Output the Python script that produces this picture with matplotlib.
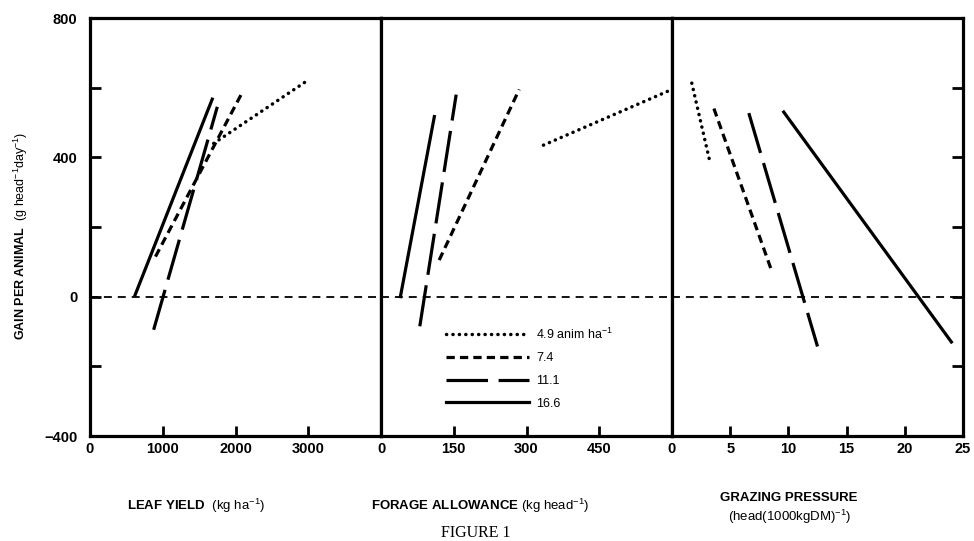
import matplotlib
matplotlib.use("Agg")
import matplotlib.pyplot as plt

plt.rcParams['font.family'] = ['Liberation Sans', 'DejaVu Sans']
plt.rcParams['mathtext.fontset'] = 'custom'
plt.rcParams['mathtext.rm'] = 'Liberation Sans'
plt.rcParams['mathtext.bf'] = 'Liberation Sans:bold'
plt.rcParams['mathtext.it'] = 'Liberation Sans:italic'

# ---- data ----
series_labels = ["4.9 anim ha$^{-1}$", "7.4", "11.1", "16.6"]

leaf_yield_x = [[1700, 2950], [900, 2090], [875, 1750], [620, 1680]]
leaf_yield_gain = [[440, 615], [115, 585], [-95, 545], [5, 567]]

forage_x = [[335, 600], [120, 285], [80, 155], [40, 110]]
forage_gain = [[435, 595], [105, 595], [-85, 580], [0, 517]]

grazing_x = [[1.7, 3.25], [3.6, 8.5], [6.6, 12.5], [9.6, 24.0]]
grazing_gain = [[613, 388], [540, 80], [527, -143], [530, -130]]

leaf_ticks = [0, 1000, 2000, 3000]
forage_ticks = [0, 150, 300, 450]
grazing_ticks = [0, 5, 10, 15, 20, 25]
y_ticks = [-400, -200, 0, 200, 400, 600, 800]
y_ticklabels = ["\u2212400", "", "0", "", "400", "", "800"]

# ---- styles ----
LW = 2.3
styles = [
    dict(linestyle=(0, (0.05, 1.8)), dash_capstyle='round', lw=2.5),
    dict(linestyle=(0, (2.6, 1.6)), dash_capstyle='butt', lw=LW),
    dict(linestyle=(0, (13, 3.3)), dash_capstyle='butt', lw=LW),
    dict(linestyle='-', lw=LW),
]

W, H = 974, 541
fig = plt.figure(figsize=(W / 100, H / 100), dpi=100)

left_px, right_px, top_px, bot_px = 90, 963, 18, 436
pw = (right_px - left_px) / 3

panels = [
    (leaf_yield_x, leaf_yield_gain, (0, 4000), leaf_ticks),
    (forage_x, forage_gain, (0, 600), forage_ticks),
    (grazing_x, grazing_gain, (0, 25), grazing_ticks),
]

axes = []
for i, (xs, ys, xlim, xt) in enumerate(panels):
    ax = fig.add_axes([(left_px + i * pw) / W, 1 - bot_px / H, pw / W, (bot_px - top_px) / H])
    axes.append(ax)
    ax.set_xlim(*xlim)
    ax.set_ylim(-400, 800)
    ax.axhline(0, color='black', lw=1.3, linestyle=(0, (4.4, 3.3)))
    for k in range(4):
        ax.plot(xs[k], ys[k], color='black', label=series_labels[k], **styles[k])
    for s in ax.spines.values():
        s.set_linewidth(2.3)
    ax.set_xticks(xt)
    ax.set_xticklabels([str(t) for t in xt], fontsize=10.5, fontweight='bold')
    ax.tick_params(axis='x', direction='in', length=7, width=2, pad=4)
    ax.set_yticks(y_ticks)
    if i == 0:
        ax.set_yticklabels(y_ticklabels, fontsize=10.5, fontweight='bold')
        ax.tick_params(axis='y', direction='in', length=8, width=2, pad=9, left=True, right=False)
    elif i == 2:
        ax.tick_params(axis='y', direction='in', length=8, width=2, left=False, right=True,
                       labelleft=False, labelright=False)
    else:
        ax.tick_params(axis='y', left=False, right=False, labelleft=False)

axes[1].legend(loc='upper left', bbox_to_anchor=(0.225, 0.262), frameon=False,
               fontsize=9, handlelength=6.6, handletextpad=0.55, labelspacing=0.85,
               borderpad=0, borderaxespad=0)

fig.text(0.021, 1 - 236 / H,
         r"$\mathbf{GAIN\ PER\ ANIMAL}$  (g head$^{-1}$day$^{-1}$)",
         rotation=90, ha='center', va='center', fontsize=9)
fig.text(196 / W, 1 - 506 / H, r"$\mathbf{LEAF\ YIELD}$  (kg ha$^{-1}$)",
         ha='center', va='center', fontsize=9.5)
fig.text(480 / W, 1 - 506 / H, r"$\mathbf{FORAGE\ ALLOWANCE}$ (kg head$^{-1}$)",
         ha='center', va='center', fontsize=9.5)
fig.text(789 / W, 1 - 498 / H, "GRAZING PRESSURE", fontweight='bold',
         ha='center', va='center', fontsize=9.5)
fig.text(790 / W, 1 - 517 / H, "(head(1000kgDM)$^{-1}$)",
         ha='center', va='center', fontsize=9.5)
fig.text(476 / W, 1 - 525 / H, "FIGURE 1", family=['Liberation Serif', 'DejaVu Serif'],
         ha='center', va='top', fontsize=11.5)

fig.savefig("out.png", dpi=100)
